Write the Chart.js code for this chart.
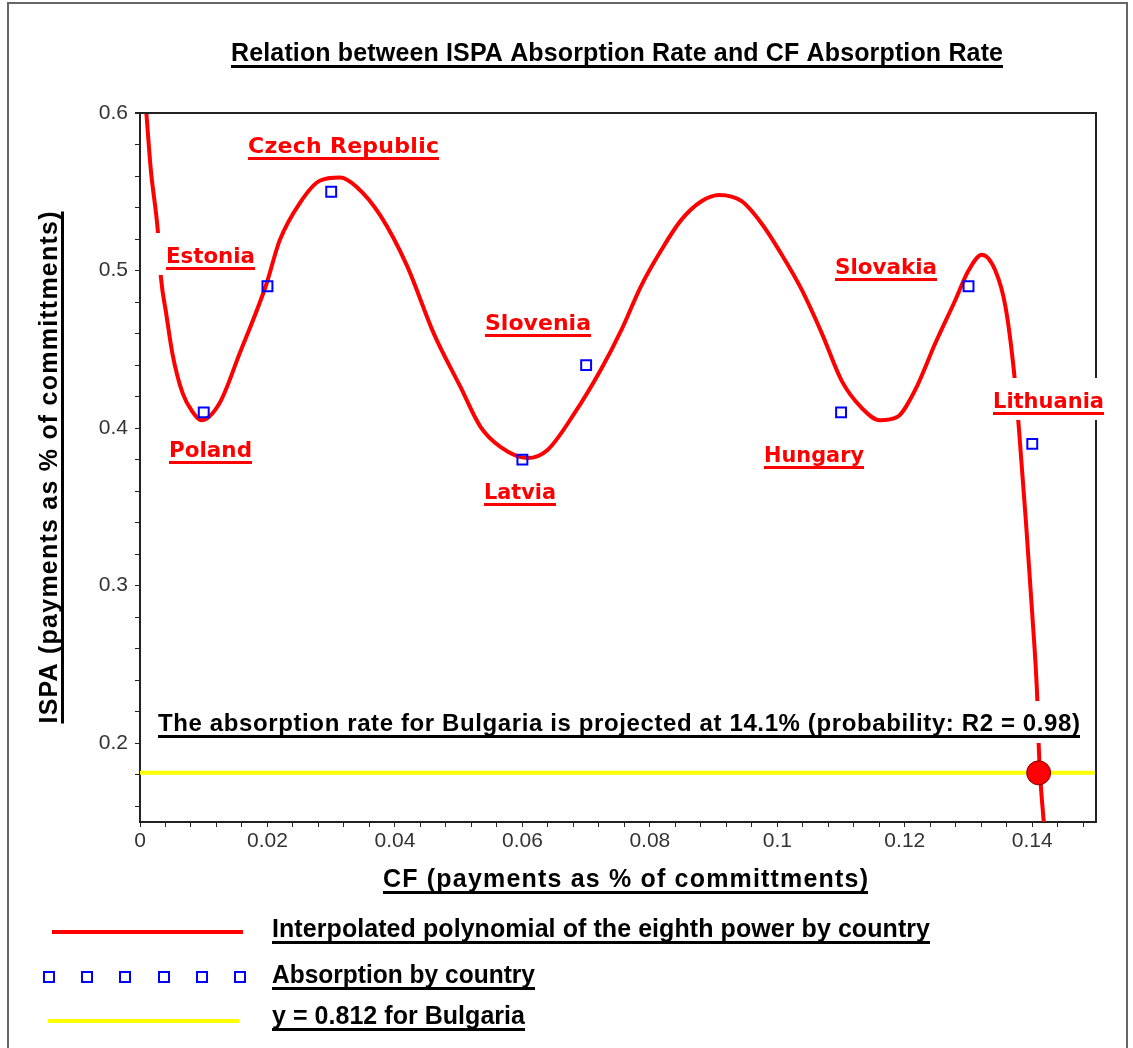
<!DOCTYPE html>
<html>
<head>
<meta charset="utf-8">
<script src="https://cdn.jsdelivr.net/npm/chart.js@4.4.0/dist/chart.umd.min.js"></script>
<style>
  html, body { margin: 0; padding: 0; background: #fff; overflow: hidden; }
  #wrap { position: relative; width: 1133px; height: 1048px; }
</style>
</head>
<body>
<div id="wrap"><canvas id="chart"></canvas></div>
<script>
// Absorption by country: CF rate (x) against ISPA rate (y)
const countries = ['Poland', 'Estonia', 'Czech Republic', 'Latvia', 'Slovenia', 'Hungary', 'Slovakia', 'Lithuania'];
const cfRate    = [0.01, 0.02, 0.03, 0.06, 0.07, 0.11, 0.13, 0.14];
const ispaRate  = [0.41, 0.49, 0.55, 0.38, 0.44, 0.41, 0.49, 0.39];

// Eighth-power polynomial through the country points, sampled along CF
const fitCF = [0.0010, 0.0017, 0.0028, 0.0033, 0.0041, 0.0051, 0.0067, 0.0083, 0.0096, 0.0125,
               0.0156, 0.0198, 0.0219, 0.0251, 0.0282, 0.0314, 0.0340, 0.0377, 0.0419, 0.0461,
               0.0503, 0.0534, 0.0566, 0.0608, 0.0639, 0.0681, 0.0723, 0.0755, 0.0786, 0.0818,
               0.0849, 0.0881, 0.0909, 0.0944, 0.0975, 0.1007, 0.1038, 0.1070, 0.1101, 0.1132,
               0.1161, 0.1188, 0.1216, 0.1248, 0.1279, 0.1300, 0.1321, 0.1342, 0.1358, 0.1371,
               0.1379, 0.1390, 0.1400, 0.1408, 0.1410, 0.1412, 0.1418];
const fitISPA = [0.600, 0.564, 0.525, 0.495, 0.473, 0.447, 0.422, 0.410, 0.405, 0.416,
                 0.447, 0.491, 0.519, 0.543, 0.557, 0.559, 0.553, 0.535, 0.503, 0.460,
                 0.426, 0.401, 0.388, 0.381, 0.386, 0.409, 0.437, 0.462, 0.490, 0.513,
                 0.532, 0.544, 0.548, 0.544, 0.530, 0.510, 0.488, 0.460, 0.430, 0.413,
                 0.405, 0.407, 0.424, 0.454, 0.481, 0.500, 0.510, 0.500, 0.477, 0.437,
                 0.400, 0.341, 0.282, 0.227, 0.200, 0.182, 0.150];

// Bulgaria: projected CF rate 14.1% at the ISPA level of the horizontal line
const bulgariaCF   = 0.141;
const bulgariaISPA = 0.1812;

// Axis tick labels (minor ticks fall between them)
const xTickLabels = [0, 0.02, 0.04, 0.06, 0.08, 0.1, 0.12, 0.14];
const yTickLabels = [0.2, 0.3, 0.4, 0.5, 0.6];

const titleText  = 'Relation between ISPA Absorption Rate and CF Absorption Rate';
const xTitleText = 'CF (payments as % of committments)';
const yTitleText = 'ISPA (payments as % of committments)';
const noteText   = 'The absorption rate for Bulgaria is projected at 14.1% (probability: R2 = 0.98)';

// ---- layout / styling ----
const X_MINOR = 0.004, Y_MINOR = 0.02;
const RED = '#ff0000', BLUE = '#0000ff', YELLOW = '#ffff00';
const LABEL_FONT = 'bold 22px "DejaVu Sans", Verdana, sans-serif';
const BLACK_FONT = 'bold 25px "Liberation Sans", Arial, sans-serif';

// left edge, baseline, width (px) of each country tag
const tagPlacement = {
  'Czech Republic': [248, 153, 191],
  'Estonia':        [166, 263, 89],
  'Poland':         [169, 457, 83],
  'Slovenia':       [485, 330, 106],
  'Latvia':         [484, 499, 72],
  'Hungary':        [764, 462, 100],
  'Slovakia':       [835, 274, 102],
  'Lithuania':      [993, 408, 111]
};

const fmt = v => String(+v.toFixed(3));
const near = (a, b) => Math.abs(a - b) < 1e-9;

function fittedText(ctx, text, x, y, width, font, color, ul) {
  ctx.save();
  ctx.font = font;
  ctx.fillStyle = color;
  ctx.textAlign = 'left';
  ctx.textBaseline = 'alphabetic';
  const hasLS = 'letterSpacing' in ctx;
  if (hasLS) ctx.letterSpacing = '0px';
  const natural = ctx.measureText(text).width;
  const n = Array.from(text).length;
  if (!hasLS || natural > width) {
    ctx.fillText(text, x, y, width);
  } else {
    ctx.letterSpacing = ((width - natural) / Math.max(1, n - 1)) + 'px';
    ctx.fillText(text, x, y);
  }
  if (ul) ctx.fillRect(x, y + ul[0], width, ul[1]);
  ctx.restore();
}

const decorations = {
  id: 'decorations',
  beforeDraw(chart) {
    const ctx = chart.ctx;
    ctx.save();
    ctx.fillStyle = '#fff';
    ctx.fillRect(0, 0, chart.width, chart.height);
    // figure frame
    ctx.strokeStyle = '#666';
    ctx.lineWidth = 2;
    ctx.beginPath();
    ctx.moveTo(8, chart.height + 5);
    ctx.lineTo(8, 3);
    ctx.lineTo(1127, 3);
    ctx.lineTo(1127, chart.height + 5);
    ctx.stroke();
    ctx.restore();
  },
  afterDatasetsDraw(chart) {
    const ctx = chart.ctx;
    const a = chart.chartArea;
    ctx.save();
    // top and right edges of the plot box
    ctx.strokeStyle = '#222';
    ctx.lineWidth = 2;
    ctx.beginPath();
    ctx.moveTo(a.left - 5, a.top);
    ctx.lineTo(a.right, a.top);
    ctx.lineTo(a.right, a.bottom);
    ctx.stroke();

    // country tags on white boxes
    countries.forEach(name => {
      const [x, y, w] = tagPlacement[name];
      ctx.fillStyle = '#fff';
      ctx.fillRect(x - 12, y - 30, w + 24, 42);
      fittedText(ctx, name, x, y, w, LABEL_FONT, RED, [4, 3]);
    });

    // projection note
    ctx.fillStyle = '#fff';
    ctx.fillRect(146, 731 - 30, 946, 42);
    fittedText(ctx, noteText, 158, 731, 922, 'bold 24px "Liberation Sans", Arial, sans-serif', '#000', [4, 3]);

    // chart title and axis titles
    fittedText(ctx, titleText, 231, 61, 772, BLACK_FONT, '#000', [4, 3]);
    fittedText(ctx, xTitleText, 383, 887, 485, BLACK_FONT, '#000', [4, 3]);
    ctx.save();
    ctx.translate(57, (a.top + a.bottom) / 2);
    ctx.rotate(-Math.PI / 2);
    fittedText(ctx, yTitleText, -256, 0, 512, BLACK_FONT, '#000', [4, 3]);
    ctx.restore();

    // legend below the plot
    const ds = chart.data.datasets;
    const curve = ds.find(d => d.id === 'fit');
    const pts = ds.find(d => d.id === 'countries');
    const level = ds.find(d => d.id === 'level');
    ctx.lineCap = 'butt';
    ctx.strokeStyle = curve.borderColor;
    ctx.lineWidth = curve.borderWidth;
    ctx.beginPath(); ctx.moveTo(52, 932); ctx.lineTo(243, 932); ctx.stroke();
    fittedText(ctx, curve.label, 272, 937, 658, BLACK_FONT, '#000', [4, 3]);

    ctx.strokeStyle = pts.borderColor;
    ctx.lineWidth = 2;
    [49, 87, 125, 164, 202, 240].forEach(cx => ctx.strokeRect(cx - 5, 977 - 5, 10, 10));
    fittedText(ctx, pts.label, 272, 983, 263, BLACK_FONT, '#000', [4, 3]);

    ctx.strokeStyle = level.borderColor;
    ctx.lineWidth = level.borderWidth;
    ctx.beginPath(); ctx.moveTo(48, 1021); ctx.lineTo(239, 1021); ctx.stroke();
    fittedText(ctx, level.label, 272, 1024, 253, BLACK_FONT, '#000', [4, 3]);
    ctx.restore();
  }
};

const tickFont = { family: '"Liberation Sans", Arial, sans-serif', size: 21 };

new Chart(document.getElementById('chart'), {
  type: 'scatter',
  data: {
    datasets: [
      {
        id: 'bulgaria',
        label: 'Bulgaria',
        data: [{ x: bulgariaCF, y: bulgariaISPA }],
        pointRadius: 12,
        pointBackgroundColor: RED,
        pointBorderColor: '#7a0000',
        pointBorderWidth: 1,
        order: 0
      },
      {
        id: 'countries',
        label: 'Absorption by country',
        data: cfRate.map((x, i) => ({ x, y: ispaRate[i] })),
        pointStyle: 'rect',
        pointRadius: 7,
        borderColor: BLUE,
        backgroundColor: 'rgba(0,0,0,0)',
        pointBorderWidth: 2,
        order: 1
      },
      {
        id: 'fit',
        label: 'Interpolated polynomial of the eighth power by country',
        data: fitCF.map((x, i) => ({ x, y: fitISPA[i] })),
        showLine: true,
        borderColor: RED,
        borderWidth: 4,
        pointRadius: 0,
        cubicInterpolationMode: 'monotone',
        order: 2
      },
      {
        id: 'level',
        label: 'y = 0.812 for Bulgaria',
        data: [{ x: 0, y: bulgariaISPA }, { x: 0.15, y: bulgariaISPA }],
        showLine: true,
        borderColor: YELLOW,
        borderWidth: 4,
        pointRadius: 0,
        order: 3
      }
    ]
  },
  plugins: [decorations],
  options: {
    responsive: true,
    maintainAspectRatio: false,
    animation: false,
    events: [],
    layout: { padding: { left: 0, right: 37, top: 113, bottom: 0 } },
    plugins: { legend: { display: false }, title: { display: false }, tooltip: { enabled: false } },
    scales: {
      x: {
        type: 'linear',
        min: 0,
        max: 0.15,
        afterBuildTicks(scale) {
          const ticks = [];
          for (let i = 0; i * X_MINOR < 0.15 - 1e-9; i++) ticks.push({ value: +(i * X_MINOR).toFixed(3) });
          scale.ticks = ticks;
        },
        afterFit(scale) { scale.height = 226; },
        ticks: {
          autoSkip: false,
          maxRotation: 0,
          padding: 2,
          color: '#333',
          font: tickFont,
          callback: v => xTickLabels.some(t => near(t, v)) ? fmt(v) : ''
        },
        grid: { drawOnChartArea: false, drawTicks: true, tickLength: 5, color: '#222', lineWidth: 1 },
        border: { display: true, color: '#222', width: 2 }
      },
      y: {
        type: 'linear',
        min: 0.15,
        max: 0.6,
        afterBuildTicks(scale) {
          const ticks = [];
          for (let i = 8; i * Y_MINOR <= 0.6 + 1e-9; i++) ticks.push({ value: +(i * Y_MINOR).toFixed(2) });
          scale.ticks = ticks;
        },
        afterFit(scale) { scale.width = 140; },
        ticks: {
          autoSkip: false,
          padding: 7,
          color: '#333',
          font: tickFont,
          callback: v => yTickLabels.some(t => near(t, v)) ? fmt(v) : ''
        },
        grid: { drawOnChartArea: false, drawTicks: true, tickLength: 5, color: '#222', lineWidth: 1 },
        border: { display: true, color: '#222', width: 2 }
      }
    }
  }
});
</script>
</body>
</html>
